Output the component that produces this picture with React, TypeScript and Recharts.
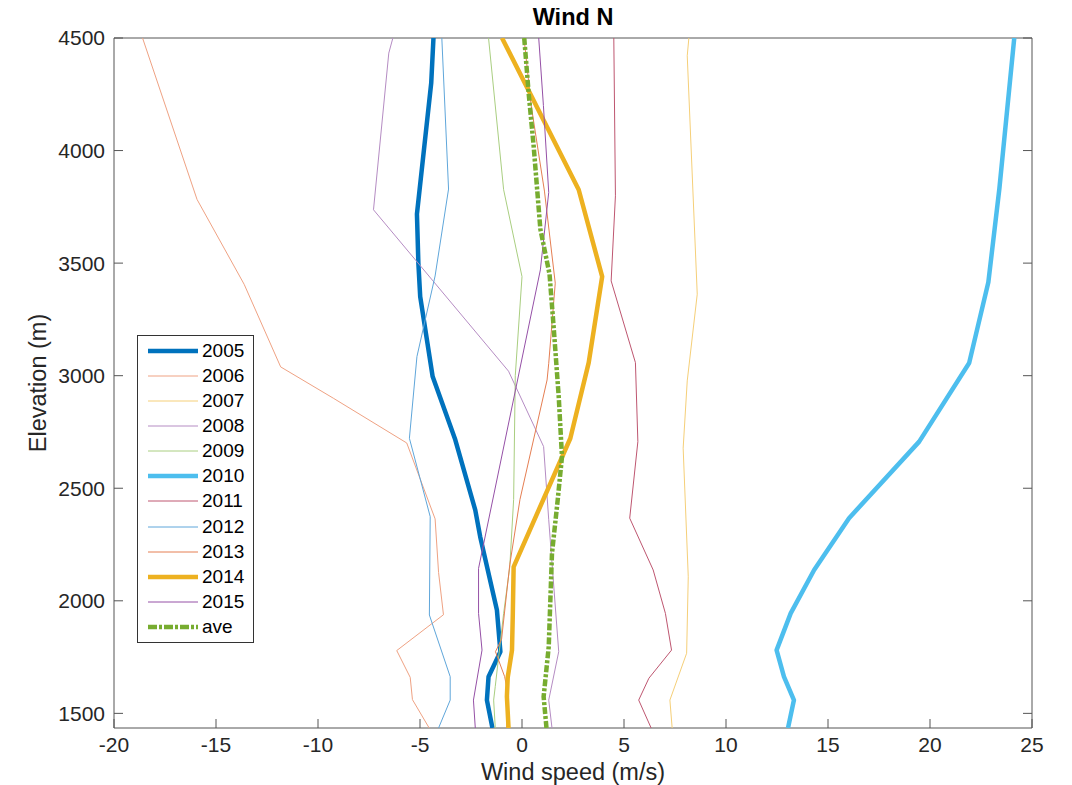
import React from 'react';
import { ScatterChart, Scatter, XAxis, YAxis, Legend, Label } from 'recharts';

// each profile: [elevation (m), wind speed (m/s)]
const p2005 = [[4500, -4.34], [4300, -4.45], [3718, -5.15], [3500, -5.08], [3351, -4.99], [2996, -4.38], [2715, -3.27], [2403, -2.29], [2285, -2.05], [1959, -1.23], [1774, -1.06], [1663, -1.64], [1559, -1.72], [1435, -1.45]];
const p2006 = [[4500, -18.6], [3783, -15.93], [3406, -13.62], [3039, -11.83], [2900, -9.25], [2701, -5.65], [2364, -4.26], [2126, -4.09], [1938, -3.85], [1779, -6.14], [1660, -5.48], [1561, -5.37], [1435, -4.55]];
const p2007 = [[4500, 8.18], [4421, 8.1], [3362, 8.59], [2977, 8.1], [2678, 7.9], [2107, 8.15], [1767, 8.07], [1559, 7.25], [1435, 7.36]];
const p2008 = [[4500, -6.33], [4433, -6.53], [3737, -7.28], [3020, -0.66], [2685, 1.06], [2360, 1.31], [1774, 1.8], [1559, 1.31], [1435, 1.47]];
const p2009 = [[4500, -1.64], [3826, -0.9], [3440, 0], [3000, -0.33], [2450, -0.41], [2150, -0.6], [1944, -0.9], [1620, -1.31], [1559, -1.39], [1435, -1.31]];
const p2010 = [[4500, 24.13], [3830, 23.4], [3415, 22.86], [3056, 21.92], [2707, 19.47], [2367, 16.03], [2137, 14.32], [1944, 13.17], [1781, 12.48], [1663, 12.84], [1559, 13.33], [1435, 13.04]];
const p2011 = [[4500, 4.5], [3799, 4.58], [3421, 4.37], [3058, 5.56], [2707, 5.68], [2367, 5.28], [2137, 6.43], [1944, 7.03], [1781, 7.33], [1656, 6.22], [1559, 5.72], [1435, 6.33]];
const p2012 = [[4500, -3.93], [3829, -3.6], [3443, -4.26], [3085, -5.15], [2722, -5.52], [2374, -4.5], [1937, -4.54], [1663, -3.52], [1559, -3.52], [1435, -4.09]];
const p2013 = [[4500, 0.1], [4200, 0.45], [3820, 1.1], [3411, 1.63], [3055, 1.31], [2981, 1.23], [2450, -0.1], [2160, -0.6], [1830, -1.0], [1774, -1.3], [1663, -0.85], [1574, -0.66], [1435, -0.75]];
const p2014 = [[4500, -0.98], [3826, 2.78], [3440, 3.93], [3058, 3.27], [2722, 2.37], [2151, -0.41], [1944, -0.45], [1781, -0.49], [1660, -0.7], [1574, -0.74], [1435, -0.66]];
const p2015 = [[4500, 0.82], [4200, 1.05], [3814, 1.31], [3470, 0.9], [2144, -2.13], [1944, -2.13], [1781, -1.96], [1559, -2.38], [1435, -2.29]];
const pAve = [[4500, 0.11], [4251, 0.33], [4021, 0.57], [3651, 0.9], [3451, 1.35], [3218, 1.55], [2907, 1.8], [2640, 1.96], [2448, 1.75], [2211, 1.47], [1796, 1.31], [1574, 1.06], [1435, 1.2]];

const xTicks = [-20, -15, -10, -5, 0, 5, 10, 15, 20, 25];
const yTicks = [1500, 2000, 2500, 3000, 3500, 4000, 4500];

const FONT = '"Liberation Sans", Arial, Helvetica, sans-serif';
const AX = '#555555';
const TXT = '#262626';

const toPts = (rows: number[][]) => rows.map(([e, v]) => ({ e, v }));

const series = [
  { name: '2005', rows: p2005, color: '#0072BD', width: 4.5 },
  { name: '2006', rows: p2006, color: '#EFA283', width: 1 },
  { name: '2007', rows: p2007, color: '#F5CF78', width: 1 },
  { name: '2008', rows: p2008, color: '#B58CC3', width: 1 },
  { name: '2009', rows: p2009, color: '#A9CE80', width: 1 },
  { name: '2010', rows: p2010, color: '#4DBEEE', width: 4.5 },
  { name: '2011', rows: p2011, color: '#BE5670', width: 1 },
  { name: '2012', rows: p2012, color: '#5FA6DA', width: 1 },
  { name: '2013', rows: p2013, color: '#E57E52', width: 1 },
  { name: '2014', rows: p2014, color: '#EDB120', width: 4.5 },
  { name: '2015', rows: p2015, color: '#9550A6', width: 1 },
  { name: 'ave', rows: pAve, color: '#77AC30', width: 4.5, dash: '7 2 3 2' },
];

const noShape = () => <g />;

const renderLegend = () => (
  <div
    style={{
      border: '1px solid #333',
      background: '#fff',
      padding: '2px 0',
      width: 117,
      boxSizing: 'border-box',
      fontFamily: FONT,
      fontSize: 19,
      color: '#000',
    }}
  >
    {series.map((s) => (
      <div key={s.name} style={{ display: 'flex', alignItems: 'center', height: 25.15 }}>
        <svg width={64} height={12} style={{ flex: 'none' }}>
          <line x1={10} x2={60} y1={6} y2={6} stroke={s.color} strokeWidth={s.width} strokeDasharray={s.dash ? '9 2 3 2' : undefined} />
        </svg>
        <span style={{ lineHeight: '20px' }}>{s.name}</span>
      </div>
    ))}
  </div>
);

const App: React.FC = () => {
  return (
    <div style={{ marginTop: -8 }}>
      <ScatterChart width={1064} height={785} margin={{ top: 37, right: 39, bottom: 56, left: 105 }}>
        <XAxis
          dataKey="v"
          type="number"
          domain={[-20, 25]}
          ticks={xTicks}
          allowDataOverflow
          height={1}
          tickSize={-9}
          tickMargin={18}
          axisLine={{ stroke: AX }}
          tickLine={{ stroke: AX }}
          tick={{ fontSize: 21, fill: TXT, fontFamily: FONT }}
        >
          <Label
            content={(p: any) => {
              const vb = p.viewBox || { x: 106, y: 728, width: 918 };
              return (
                <text x={vb.x + vb.width / 2} y={vb.y + 44} textAnchor="middle" dominantBaseline="central" fontSize={23.5} fill={TXT} fontFamily={FONT}>
                  Wind speed (m/s)
                </text>
              );
            }}
          />
        </XAxis>
        <XAxis
          xAxisId="top"
          orientation="top"
          type="number"
          domain={[-20, 25]}
          ticks={xTicks}
          allowDataOverflow
          height={1}
          tickSize={-9}
          tickFormatter={() => ''}
          axisLine={{ stroke: AX }}
          tickLine={{ stroke: AX }}
        >
          <Label
            content={(p: any) => {
              const vb = p.viewBox || { x: 106, y: 37, width: 918, height: 1 };
              return (
                <text x={vb.x + vb.width / 2} y={vb.y + (vb.height || 0) - 21} textAnchor="middle" dominantBaseline="central" fontSize={23.5} fontWeight="bold" fill="#000" fontFamily={FONT}>
                  Wind N
                </text>
              );
            }}
          />
        </XAxis>
        <YAxis
          dataKey="e"
          type="number"
          domain={[1435, 4500]}
          ticks={yTicks}
          allowDataOverflow
          width={1}
          tickSize={-9}
          tickMargin={18}
          axisLine={{ stroke: AX }}
          tickLine={{ stroke: AX }}
          tick={{ fontSize: 21, fill: TXT, fontFamily: FONT }}
        >
          <Label
            content={(p: any) => {
              const vb = p.viewBox || { x: 105, y: 38, width: 1, height: 690 };
              const cx = vb.x + (vb.width || 0) - 76;
              const cy = vb.y + vb.height / 2;
              return (
                <text x={0} y={0} transform={`translate(${cx}, ${cy}) rotate(-90)`} textAnchor="middle" dominantBaseline="central" fontSize={23.5} fill={TXT} fontFamily={FONT}>
                  Elevation (m)
                </text>
              );
            }}
          />
        </YAxis>
        <YAxis
          yAxisId="right"
          orientation="right"
          type="number"
          domain={[1435, 4500]}
          ticks={yTicks}
          allowDataOverflow
          width={1}
          tickSize={-9}
          tickFormatter={() => ''}
          axisLine={{ stroke: AX }}
          tickLine={{ stroke: AX }}
        />
        {series.map((s) => (
          <Scatter
            key={s.name}
            name={s.name}
            data={toPts(s.rows)}
            fill={s.color}
            shape={noShape}
            line={{ stroke: s.color, strokeWidth: s.width, strokeDasharray: s.dash, strokeLinejoin: 'round' }}
            isAnimationActive={false}
          />
        ))}
        <Legend
          layout="vertical"
          align="center"
          verticalAlign="middle"
          wrapperStyle={{ left: 129, top: 335, width: 117 }}
          content={renderLegend}
        />
      </ScatterChart>
    </div>
  );
};

export default App;
